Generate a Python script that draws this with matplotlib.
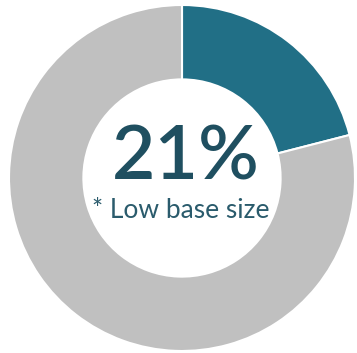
import matplotlib.pyplot as plt

labels = ["Low base", "Rest"]
values = [21, 79]
colors = ["#216f86", "#c0c0c0"]
big_text = "21%"
sub_text = "* Low base size"

W, H = 357, 353
fig = plt.figure(figsize=(W / 100, H / 100), dpi=100)
ax = fig.add_axes([0, 0, 1, 1])

R = 173
cx, cy = 182, H - 178
ax.pie(values, colors=colors, startangle=90, counterclock=False,
       radius=R, center=(cx, cy),
       wedgeprops=dict(width=R * 0.43, edgecolor="white", linewidth=1.5))
ax.set_xlim(0, W)
ax.set_ylim(0, H)
ax.set_axis_off()

ax.text(186, H - 180, big_text, ha="center", va="baseline", fontsize=54,
        family="Lato", fontweight="semibold", color="#1f4f60")
ax.text(181, H - 218, sub_text, ha="center", va="baseline", fontsize=19,
        family="Lato", color="#2a5b6c")

plt.savefig("out.png", dpi=100)
